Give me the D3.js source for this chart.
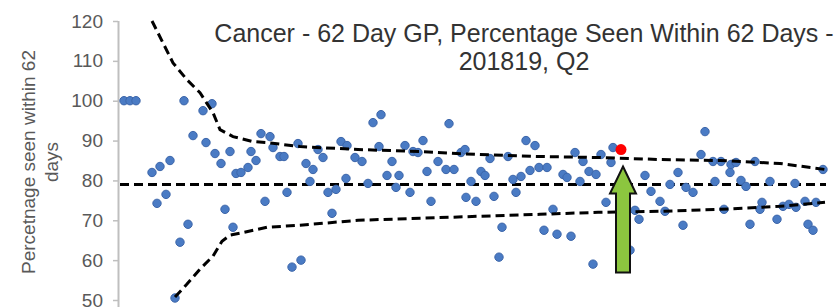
<!DOCTYPE html>
<html>
<head>
<meta charset="utf-8">
<script src="https://cdn.jsdelivr.net/npm/d3@7"></script>
<style>
  body { margin: 0; background: #fff; }
  svg { display: block; font-family: "Liberation Sans", Arial, sans-serif; }
</style>
</head>
<body>
<svg class="funnel" width="839" height="307"></svg>
<script>
// practices: x = practice size (arbitrary units), y = % seen within 62 days
var practiceSize = [1.5, 3, 4.5, 8.5, 10.5, 13, 9.75, 12, 14.25, 15.5, 16.5, 17.5, 18.75, 21.25, 23.5, 22, 24.25, 25.75, 26.75, 28,
  28.75, 29.5, 30.75, 32.5, 33.25, 34.5, 35.75, 38, 38.75, 36.75, 40.5, 41.5, 42.25, 43.5, 45.75, 45, 47, 48.75, 48, 50,
  51.25, 52.5, 54.5, 57, 53.5, 55.75, 57.25, 59.25, 61, 62.5, 63.75, 65.75, 65.25, 67.25, 68.5, 69.5, 70.25, 71.75, 73.75, 75,
  76.25, 73, 77.25, 78.25, 80, 82, 84, 82.75, 85.75, 86.75, 88.25, 87, 89.5, 90.75, 91.75, 93, 94, 95.25, 96, 97.5,
  98.75, 99.5, 100.75, 102, 104.25, 103, 105.25, 107.25, 108.75, 106.5, 109.75, 111.25, 112.25, 113.25, 114.25, 116.25, 115.5, 117.75, 119.5, 118.75,
  120.75, 123.25, 123.75, 122, 128, 129.25, 130.25, 131.75, 133.25, 135.5, 136.75, 138, 140, 141.25, 142, 143.75, 145.75, 146.75, 148.75, 149.25,
  150.75, 151.5, 153, 153.25, 154.5, 155.75, 157, 158, 159.25, 160.5, 161, 163, 164.75, 166.25, 167.75, 169.25, 169.5, 171.75, 172.5, 173.75,
  174.5, 176.25];
var pctSeen = [100, 100, 100, 82, 83.5, 85, 74.25, 76.5, 50.5, 64.5, 100, 69, 91.25, 97.5, 99.25, 89.5, 86.75, 84.25, 72.75, 87.25,
  68.25, 81.75, 82, 83.25, 87.25, 85, 91.75, 91, 88.25, 74.75, 86, 86, 77, 58.25, 60, 89.25, 84.25, 82.75, 79.75, 87.75,
  85.75, 77, 77.75, 80.5, 71.75, 89.75, 88.75, 85.75, 84.75, 79.25, 94.5, 96.5, 88.5, 81.25, 84.75, 78.25, 81.25, 88.75, 87.25, 87,
  90, 77, 82.25, 74.75, 84.75, 82.75, 82.75, 94.25, 87, 87.75, 79.75, 75.75, 74.75, 82.25, 81.25, 85.5, 76, 60.75, 68.25, 86,
  80.25, 77, 81, 90, 88.75, 82.5, 83.25, 83.25, 72.75, 67.5, 66.5, 81.5, 80.75, 66, 87, 84.75, 79.75, 82.25, 81.5, 59,
  86.5, 84.5, 88.25, 74.5, 62.5, 72.5, 70.25, 81.25, 77.25, 74.75, 72.25, 79, 82, 68.75, 78.25, 77, 86.5, 92.25, 84.75, 79.75,
  84.75, 72.75, 82, 84, 84.5, 80, 78.5, 69, 84.75, 72.75, 74.5, 79.75, 70.25, 73.5, 74, 79.25, 73.25, 74.75, 69, 67.5,
  74.5, 82.75];

// highlighted practice
var highlightSize = 125.75;
var highlightPct = 87.75;

// control limits
var upperX = [8.5, 11.25, 13.75, 17.25, 20.5, 23.75, 25.5, 28.75, 33.75, 37.25, 45.5, 60, 75.5, 90, 105.5, 120, 135.5, 150.5, 165.5, 176.75];
var upperLimit = [120, 114.5, 109.5, 105.25, 102, 97, 92.75, 91, 89.75, 89.5, 88.5, 87.75, 87.25, 86.5, 86, 85.75, 85.25, 85, 84.25, 82.75];
var lowerX = [14.25, 17.25, 20.5, 23.75, 26, 28, 30.5, 37.25, 45.5, 60, 75.5, 90, 105.5, 120, 135.5, 150.5, 165.5, 176.75];
var lowerLimit = [50.75, 54, 57.75, 61, 64.75, 66.25, 66.75, 68.25, 68.75, 70, 70.5, 71, 71.5, 72, 72.25, 72.75, 73.5, 74.5];
var meanPct = 79;
var meanX = [0.5, 177];

var yTicks = [50, 60, 70, 80, 90, 100, 110, 120];
var titleLines = ["Cancer - 62 Day GP, Percentage Seen Within 62 Days -", "201819, Q2"];
var yLabelLines = ["Percetnage seen within 62", "days"];

var svg = d3.select("svg.funnel");
var width = +svg.attr("width"), height = +svg.attr("height");

var x = d3.scaleLinear().domain([0, 180]).range([118, 838]);
var y = d3.scaleLinear().domain([50, 120]).range([300, 21]);

// y axis
var yAxis = d3.axisLeft(y).tickValues(yTicks).tickSize(5).tickSizeOuter(0).tickPadding(10);
var gy = svg.append("g").attr("transform", "translate(118,0)").call(yAxis);
gy.select(".domain").remove();
gy.selectAll(".tick line").attr("stroke", "#bfbfbf").attr("stroke-width", 1.5);
gy.selectAll(".tick text").attr("fill", "#595959").style("font-size", "19px")
  .style("font-family", "Liberation Sans, Arial, sans-serif");
svg.append("line")
  .attr("x1", 118.5).attr("x2", 118.5)
  .attr("y1", y(120)).attr("y2", height)
  .attr("stroke", "#bfbfbf").attr("stroke-width", 2);

// y label
var yl = svg.append("g").attr("transform", "translate(0,162) rotate(-90)");
yl.selectAll("text").data(yLabelLines).enter().append("text")
  .attr("x", 0).attr("y", function(d, i) { return 35 + i * 23; })
  .attr("text-anchor", "middle")
  .attr("fill", "#595959")
  .style("font-size", "19px")
  .text(function(d) { return d; });

// title
svg.selectAll(".title").data(titleLines).enter().append("text")
  .attr("class", "title")
  .attr("x", 524).attr("y", function(d, i) { return 42 + i * 28; })
  .attr("text-anchor", "middle")
  .attr("fill", "#333")
  .style("font-size", "25px")
  .text(function(d) { return d; });

// dashed lines
var dash = function(sel) {
  sel.attr("fill", "none").attr("stroke", "#000").attr("stroke-width", 3).attr("stroke-dasharray", "9,5");
};
var line = d3.line().x(function(d) { return x(d[0]); }).y(function(d) { return y(d[1]); });

svg.append("path").datum(meanX.map(function(v) { return [v, meanPct]; })).attr("d", line).call(dash);

// points
var pts = practiceSize.map(function(v, i) { return { x: v, y: pctSeen[i] }; });
svg.append("g").selectAll("circle").data(pts).enter().append("circle")
  .attr("cx", function(d) { return x(d.x); })
  .attr("cy", function(d) { return y(d.y); })
  .attr("r", 4.2)
  .attr("fill", "#4a7bc4")
  .attr("stroke", "#3d66aa")
  .attr("stroke-width", 1);

svg.append("path").datum(upperX.map(function(v, i) { return [v, upperLimit[i]]; })).attr("d", line).call(dash);
svg.append("path").datum(lowerX.map(function(v, i) { return [v, lowerLimit[i]]; })).attr("d", line).call(dash);

// highlighted point
var hx = x(highlightSize), hy = y(highlightPct);
svg.append("circle").attr("cx", hx).attr("cy", hy).attr("r", 5.5).attr("fill", "#ff0000");

// arrow pointing at it
var ax = hx + 2, tip = hy + 17;
var arrow = [[ax, tip], [ax + 13, tip + 27], [ax + 7, tip + 27], [ax + 7, tip + 106],
  [ax - 7, tip + 106], [ax - 7, tip + 27], [ax - 13, tip + 27]];
svg.append("polygon")
  .attr("points", arrow.map(function(p) { return p.join(","); }).join(" "))
  .attr("fill", "#8cc63f")
  .attr("stroke", "#111")
  .attr("stroke-width", 2)
  .attr("stroke-linejoin", "miter");
</script>
</body>
</html>
